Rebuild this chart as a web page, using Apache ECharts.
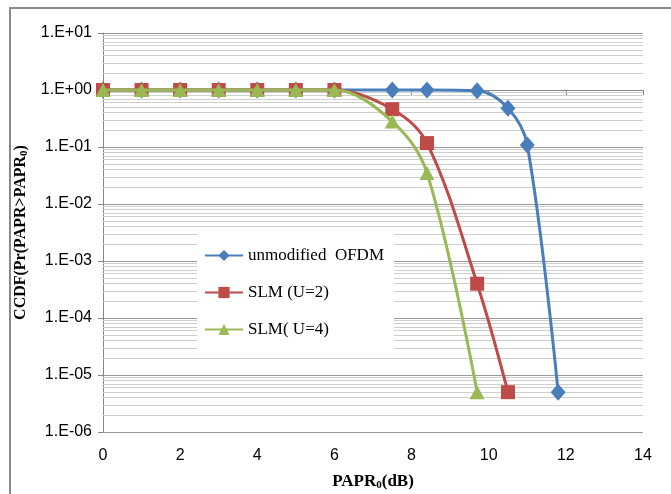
<!DOCTYPE html>
<html>
<head>
<meta charset="utf-8">
<script src="https://cdn.jsdelivr.net/npm/echarts@6/dist/echarts.min.js"></script>
<style>
  html, body { margin: 0; padding: 0; background: #fff; }
  #chart { width: 671px; height: 494px; }
</style>
</head>
<body>
<div id="chart"></div>
<script>
// values
var seriesNames = ['unmodified  OFDM', 'SLM (U=2)', 'SLM( U=4)'];

var xUnmod = [0, 1, 2, 3, 4, 5, 6, 7.5, 8.4, 9.7, 10.5, 11, 11.8];
var yUnmod = [1, 1, 1, 1, 1, 1, 1, 1, 1, 0.97, 0.48, 0.108, 5e-6];

var xSlm2 = [0, 1, 2, 3, 4, 5, 6, 7.5, 8.4, 9.7, 10.5];
var ySlm2 = [1, 1, 1, 1, 1, 1, 1, 0.46, 0.117, 4e-4, 5e-6];

var xSlm4 = [0, 1, 2, 3, 4, 5, 6, 7.5, 8.4, 9.7];
var ySlm4 = [1, 1, 1, 1, 1, 1, 1, 0.28, 0.035, 5e-6];

var xTicks = [0, 2, 4, 6, 8, 10, 12, 14];
var yDecades = [-6, -5, -4, -3, -2, -1, 0, 1];

function pairs(xs, ys) {
    var res = [];
    for (var i = 0; i < xs.length; i++) {
        res.push([xs[i], ys[i]]);
    }
    return res;
}

var xMin = xTicks[0], xMax = xTicks[xTicks.length - 1];

// excel style minor gridlines at 2..9 of every decade
var minorLines = [];
for (var d = 0; d < yDecades.length - 1; d++) {
    for (var k = 2; k <= 9; k++) {
        var v = k * Math.pow(10, yDecades[d]);
        minorLines.push([{ coord: [xMin, v] }, { coord: [xMax, v] }]);
    }
}

function expLabel(v) {
    var e = Math.round(Math.log10(v));
    var s = Math.abs(e) < 10 ? '0' + Math.abs(e) : '' + Math.abs(e);
    return '1.E' + (e < 0 ? '-' : '+') + s;
}

var dom = document.getElementById('chart');
var myChart = echarts.init(dom);

var serif = '"Liberation Serif", "Times New Roman", serif';
var sans = '"Liberation Sans", Arial, sans-serif';

var option = {
    backgroundColor: '#fff',
    animation: false,
    graphic: [{
        type: 'rect',
        shape: { x: 10, y: 8, width: 720, height: 540 },
        style: { fill: 'none', stroke: '#8a8a8a', lineWidth: 2 },
        silent: true
    }],
    grid: { left: 103, right: 28, top: 33, bottom: 62, containLabel: false, outerBoundsMode: 'none' },
    legend: {
        data: seriesNames,
        orient: 'vertical',
        left: 197,
        top: 234,
        width: 203,
        backgroundColor: '#fff',
        padding: [13, 10, 16, 7],
        itemWidth: 38,
        itemHeight: 14,
        itemGap: 20,
        textStyle: { fontFamily: serif, fontSize: 17, color: '#000' }
    },
    xAxis: [{
        type: 'value',
        min: xMin,
        max: xMax,
        interval: 2,
        position: 'bottom',
        name: 'PAPR{sub|0}(dB)',
        nameLocation: 'middle',
        nameGap: 40,
        nameTextStyle: {
            fontFamily: serif, fontSize: 17, fontWeight: 'bold', color: '#000',
            rich: { sub: { fontFamily: serif, fontSize: 11, fontWeight: 'bold', verticalAlign: 'bottom', padding: [8, 0, 0, 0] } }
        },
        axisLine: { show: false, onZero: false },
        axisTick: { show: false },
        axisLabel: { fontFamily: sans, fontSize: 16, color: '#000', margin: 16 },
        splitLine: { show: false }
    }, {
        // horizontal axis crosses at 1.E+00
        type: 'value',
        min: xMin,
        max: xMax,
        interval: 2,
        position: 'top',
        offset: -57,
        axisLine: { show: true, onZero: false, lineStyle: { color: '#868686', width: 1 } },
        axisTick: { show: true, inside: true, length: 5, lineStyle: { color: '#868686' } },
        axisLabel: { show: false },
        splitLine: { show: false }
    }],
    yAxis: {
        type: 'log',
        logBase: 10,
        min: 1e-6,
        max: 10,
        splitNumber: 7,
        name: 'CCDF(Pr(PAPR>PAPR{sub|0})',
        nameLocation: 'middle',
        nameGap: 67,
        nameRotate: 90,
        nameTextStyle: {
            fontFamily: serif, fontSize: 16, fontWeight: 'bold', color: '#000',
            rich: { sub: { fontFamily: serif, fontSize: 11, fontWeight: 'bold', verticalAlign: 'bottom', padding: [8, 0, 0, 0] } }
        },
        axisLine: { show: true, onZero: false, lineStyle: { color: '#868686', width: 1 } },
        axisTick: { show: true, length: 5, lineStyle: { color: '#868686' } },
        axisLabel: { fontFamily: sans, fontSize: 16, color: '#000', margin: 11, formatter: expLabel },
        splitLine: { show: true, lineStyle: { color: '#9a9a9a', width: 1 } },
        minorTick: { show: false },
        minorSplitLine: { show: false }
    },
    series: [{
        type: 'line',
        z: 1,
        data: [],
        silent: true,
        markLine: {
            silent: true,
            z: 1,
            symbol: ['none', 'none'],
            label: { show: false },
            lineStyle: { color: '#cfcfcf', type: 'solid', width: 1 },
            emphasis: { disabled: true },
            animation: false,
            data: minorLines
        }
    }, {
        name: seriesNames[0],
        type: 'line',
        z: 3,
        data: pairs(xUnmod, yUnmod),
        smooth: 0.35,
        symbol: 'diamond',
        symbolSize: [15, 17],
        lineStyle: { width: 3, color: '#4a7ebb' },
        itemStyle: { color: '#4a7ebb' }
    }, {
        name: seriesNames[1],
        type: 'line',
        z: 4,
        data: pairs(xSlm2, ySlm2),
        smooth: 0.35,
        symbol: 'rect',
        symbolSize: 14,
        lineStyle: { width: 3, color: '#be4b48' },
        itemStyle: { color: '#be4b48' }
    }, {
        name: seriesNames[2],
        type: 'line',
        z: 5,
        data: pairs(xSlm4, ySlm4),
        smooth: 0.35,
        symbol: 'triangle',
        symbolSize: [15, 14],
        lineStyle: { width: 3, color: '#98b954' },
        itemStyle: { color: '#98b954' }
    }]
};

if (option && typeof option === 'object') {
    myChart.setOption(option, true);
}
</script>
</body>
</html>
